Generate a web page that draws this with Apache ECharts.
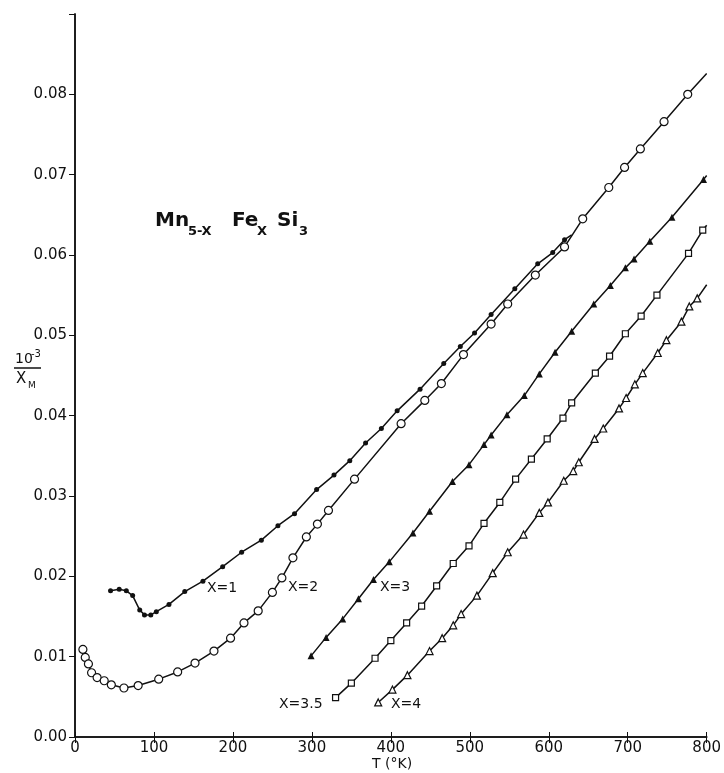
<!DOCTYPE html>
<html>
<head>
<meta charset="utf-8">
<script src="https://cdn.jsdelivr.net/npm/echarts@6/dist/echarts.min.js"></script>
<style>
  html, body { margin: 0; padding: 0; background: #fff; }
  #chart { width: 724px; height: 773px; }
</style>
</head>
<body>
<div id="chart"></div>
<script>
// T (°K) and 10^-3/χM, one pair of arrays per composition
const x1T = [45, 56, 65, 73, 82, 88, 96, 103, 119, 139, 162, 187, 211, 236, 257, 278, 306, 328, 348, 368, 388, 408, 437, 467, 488, 506, 527, 557, 586, 605, 620];
const x1V = [0.0182, 0.0184, 0.0182, 0.0176, 0.0158, 0.0152, 0.0152, 0.0156, 0.0165, 0.0181, 0.0194, 0.0212, 0.0230, 0.0245, 0.0263, 0.0278, 0.0308, 0.0326, 0.0344, 0.0366, 0.0384, 0.0406, 0.0433, 0.0465, 0.0486, 0.0503, 0.0526, 0.0558, 0.0589, 0.0603, 0.0619];

const x2T = [10, 13, 17, 21, 28, 37, 46, 62, 80, 106, 130, 152, 176, 197, 214, 232, 250, 262, 276, 293, 307, 321, 354, 413, 443, 464, 492, 527, 548, 583, 620, 643, 676, 696, 716, 746, 776];
const x2V = [0.0109, 0.0099, 0.0091, 0.0080, 0.0074, 0.0070, 0.0065, 0.0061, 0.0064, 0.0072, 0.0081, 0.0092, 0.0107, 0.0123, 0.0142, 0.0157, 0.0180, 0.0198, 0.0223, 0.0249, 0.0265, 0.0282, 0.0321, 0.0390, 0.0419, 0.0440, 0.0476, 0.0514, 0.0539, 0.0575, 0.0610, 0.0645, 0.0684, 0.0709, 0.0732, 0.0766, 0.0800];

const x3T = [299, 318, 339, 359, 378, 398, 428, 449, 478, 499, 518, 527, 547, 569, 588, 608, 629, 657, 678, 697, 708, 728, 756, 796];
const x3V = [0.0101, 0.0124, 0.0147, 0.0172, 0.0196, 0.0218, 0.0254, 0.0281, 0.0318, 0.0339, 0.0364, 0.0376, 0.0401, 0.0425, 0.0452, 0.0479, 0.0505, 0.0539, 0.0562, 0.0584, 0.0595, 0.0617, 0.0647, 0.0694];

const x35T = [330, 350, 380, 400, 420, 439, 458, 479, 499, 518, 538, 558, 578, 598, 618, 629, 659, 677, 697, 717, 737, 777, 795];
const x35V = [0.0049, 0.0067, 0.0098, 0.0120, 0.0142, 0.0163, 0.0188, 0.0216, 0.0238, 0.0266, 0.0292, 0.0321, 0.0346, 0.0371, 0.0397, 0.0416, 0.0453, 0.0474, 0.0502, 0.0524, 0.0550, 0.0602, 0.0631];

const x4T = [384, 402, 421, 449, 465, 479, 489, 509, 529, 548, 568, 588, 599, 619, 631, 638, 658, 669, 689, 698, 709, 719, 738, 749, 768, 778, 788];
const x4V = [0.0043, 0.0059, 0.0077, 0.0107, 0.0123, 0.0139, 0.0153, 0.0176, 0.0204, 0.0230, 0.0252, 0.0279, 0.0292, 0.0319, 0.0331, 0.0342, 0.0371, 0.0384, 0.0409, 0.0422, 0.0439, 0.0453, 0.0478, 0.0494, 0.0517, 0.0536, 0.0546];

// where each drawn curve stops (no marker there)
const curveEndT = [629, 800, 800, 800, 800];
const curveEndV = [0.0625, 0.0826, 0.0699, 0.0637, 0.0563];

const INK = '#111';
const FONT = 'DejaVu Sans';

const chart = echarts.init(document.getElementById('chart'));

function curve(name, ts, vs, k, symbol, size, open) {
    const data = ts.map((t, i) => [t, vs[i]]);
    data.push({ value: [curveEndT[k], curveEndV[k]], symbol: 'none' });
    return {
        name,
        type: 'line',
        data,
        smooth: false,
        symbol,
        symbolSize: size,
        showAllSymbol: true,
        lineStyle: { color: INK, width: 1.5 },
        itemStyle: open
            ? { color: '#fff', borderColor: INK, borderWidth: 1.2 }
            : { color: INK, borderColor: INK, borderWidth: 0 },
        z: 3
    };
}

const axisCommon = {
    type: 'value',
    axisLine: { show: true, lineStyle: { color: INK, width: 1.5 } },
    splitLine: { show: false }
};

chart.setOption({
    animation: false,
    backgroundColor: '#fff',
    grid: { left: 75, right: 17, top: 14, bottom: 36 },
    xAxis: [
        {
            ...axisCommon,
            position: 'bottom',
            min: 0, max: 800, interval: 100,
            axisTick: { inside: true, length: 5, lineStyle: { color: INK } },
            axisLabel: { color: INK, fontFamily: FONT, fontSize: 15, margin: 4 }
        },
        {
            ...axisCommon,
            position: 'top',
            min: 0, max: 800, interval: 100,
            axisTick: { inside: true, length: 6, lineStyle: { color: INK } },
            axisLabel: { show: false }
        }
    ],
    yAxis: [
        {
            ...axisCommon,
            position: 'left',
            min: 0, max: 0.09, interval: 0.01,
            axisTick: { inside: false, length: 6, lineStyle: { color: INK } },
            axisLabel: {
                color: INK, fontFamily: FONT, fontSize: 15, margin: 8,
                formatter: v => (v > 0.085 ? '' : v.toFixed(2))
            }
        },
        {
            ...axisCommon,
            position: 'right',
            min: 0, max: 0.09, interval: 0.01,
            axisTick: { inside: true, length: 6, lineStyle: { color: INK } },
            axisLabel: { show: false }
        }
    ],
    series: [
        curve('X=1', x1T, x1V, 0, 'circle', 5, false),
        curve('X=2', x2T, x2V, 1, 'circle', 8, true),
        curve('X=3', x3T, x3V, 2, 'triangle', 7, false),
        curve('X=3.5', x35T, x35V, 3, 'rect', 6, true),
        curve('X=4', x4T, x4V, 4, 'triangle', 7, true)
    ],
    graphic: [
        // compound formula
        { type: 'text', left: 155, top: 211, style: { text: 'Mn', font: 'bold 20px ' + FONT, fill: INK } },
        { type: 'text', left: 188, top: 225, style: { text: '5-X', font: 'bold 13px ' + FONT, fill: INK } },
        { type: 'text', left: 232, top: 211, style: { text: 'Fe', font: 'bold 20px ' + FONT, fill: INK } },
        { type: 'text', left: 257, top: 225, style: { text: 'X', font: 'bold 13px ' + FONT, fill: INK } },
        { type: 'text', left: 277, top: 211, style: { text: 'Si', font: 'bold 20px ' + FONT, fill: INK } },
        { type: 'text', left: 299, top: 225, style: { text: '3', font: 'bold 13px ' + FONT, fill: INK } },
        // y axis name: 10^-3 / X_M
        { type: 'text', left: 15, top: 352, style: { text: '10', font: '14px ' + FONT, fill: INK } },
        { type: 'text', left: 31, top: 349, style: { text: '-3', font: '10px ' + FONT, fill: INK } },
        { type: 'line', shape: { x1: 14, y1: 368, x2: 41, y2: 368 }, style: { stroke: INK, lineWidth: 1.5 } },
        { type: 'text', left: 16, top: 372, style: { text: 'X', font: '15px ' + FONT, fill: INK } },
        { type: 'text', left: 28, top: 381, style: { text: 'M', font: '9px ' + FONT, fill: INK } },
        // x axis name
        { type: 'text', left: 372, top: 757, style: { text: 'T (°K)', font: '14px ' + FONT, fill: INK } },
        // curve labels
        { type: 'text', left: 207, top: 581, style: { text: 'X=1', font: '14px ' + FONT, fill: INK } },
        { type: 'text', left: 288, top: 580, style: { text: 'X=2', font: '14px ' + FONT, fill: INK } },
        { type: 'text', left: 380, top: 580, style: { text: 'X=3', font: '14px ' + FONT, fill: INK } },
        { type: 'text', left: 279, top: 697, style: { text: 'X=3.5', font: '14px ' + FONT, fill: INK } },
        { type: 'text', left: 391, top: 697, style: { text: 'X=4', font: '14px ' + FONT, fill: INK } }
    ]
});
</script>
</body>
</html>
